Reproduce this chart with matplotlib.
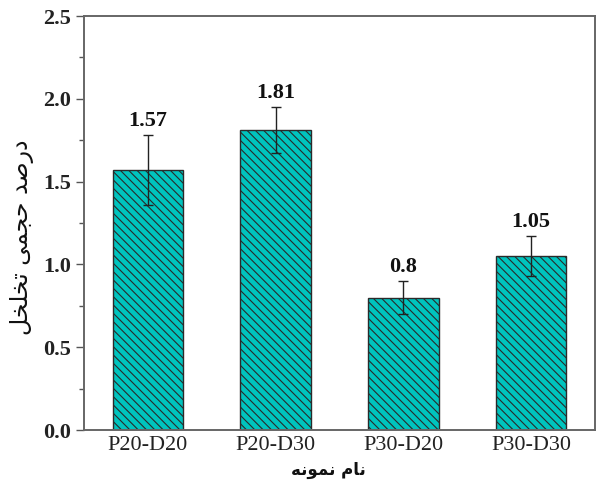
import matplotlib
matplotlib.use("Agg")
import matplotlib.pyplot as plt
from matplotlib.ticker import MultipleLocator

# Sample names and measured porosity (%) with standard deviation
samples = ["P20-D20", "P20-D30", "P30-D20", "P30-D30"]
porosity = [1.57, 1.81, 0.80, 1.05]
porosity_err = [0.21, 0.14, 0.10, 0.12]
value_labels = ["1.57", "1.81", "0.8", "1.05"]

# Persian axis titles written in shaped presentation forms (visual order)
ylabel_text = "\uFEDE\uFEA8\uFEE0\uFEA8\uFE97 \uFEF0\uFEE4\uFEA0\uFEA3 \uFEAA\uFEBB\uFEAD\uFEA9"   # درصد حجمی تخلخل
xlabel_text = "\uFEEA\uFEE7\uFEEE\uFEE4\uFEE7 \uFEE1\uFE8E\uFEE7"                                # نام نمونه

plt.rcParams["hatch.color"] = "#1f6e6b"
plt.rcParams["hatch.linewidth"] = 0.8

fig = plt.figure(figsize=(5.97, 4.83), dpi=100)
ax = fig.add_axes([84 / 597, 1 - 430 / 483, (595 - 84) / 597, (430 - 16) / 483])

x = list(range(len(samples)))
bars = ax.bar(x, porosity, width=0.55, color="#00c4be", edgecolor="#2a2a2a",
              linewidth=1.0, hatch="\\\\\\\\", zorder=2)
ax.errorbar(x, porosity, yerr=porosity_err, fmt="none", ecolor="#222222",
            elinewidth=1.0, capsize=3.5, capthick=1.0, zorder=3)

for xi, v, e, lab in zip(x, porosity, porosity_err, value_labels):
    ax.annotate(lab, xy=(xi, v + e), xytext=(0, 3), textcoords="offset points",
                ha="center", va="bottom", fontsize=16, fontweight="bold",
                family="Liberation Serif", color="#111111")

ax.set_xlim(-0.5, 3.5)
ax.set_ylim(0, 2.5)
ax.set_xticks(x)
ax.set_xticklabels(samples, family="Liberation Serif", fontsize=16, color="#222222")
ax.tick_params(axis="x", length=0, pad=4)
ax.yaxis.set_major_locator(MultipleLocator(0.5))
ax.yaxis.set_minor_locator(MultipleLocator(0.25))
ax.tick_params(axis="y", which="major", direction="out", length=6, width=1.0,
               color="#555555", pad=3)
ax.tick_params(axis="y", which="minor", direction="out", length=3.5, width=1.0,
               color="#555555")
ax.set_yticks([0, 0.5, 1.0, 1.5, 2.0, 2.5])
ax.set_yticklabels(["0.0", "0.5", "1.0", "1.5", "2.0", "2.5"],
                   family="Liberation Serif", fontweight="bold", fontsize=16,
                   color="#222222")

for s in ax.spines.values():
    s.set_color("#666666")
    s.set_linewidth(1.4)

ax.set_ylabel(ylabel_text, family="DejaVu Sans", fontsize=17, color="#111111")
ax.yaxis.set_label_coords(-0.098, 0.465)
ax.set_xlabel(xlabel_text, family="DejaVu Sans", fontsize=12, fontweight="bold",
              color="#111111")
ax.xaxis.set_label_coords(0.478, -0.075)

fig.savefig("out.png", dpi=100)
